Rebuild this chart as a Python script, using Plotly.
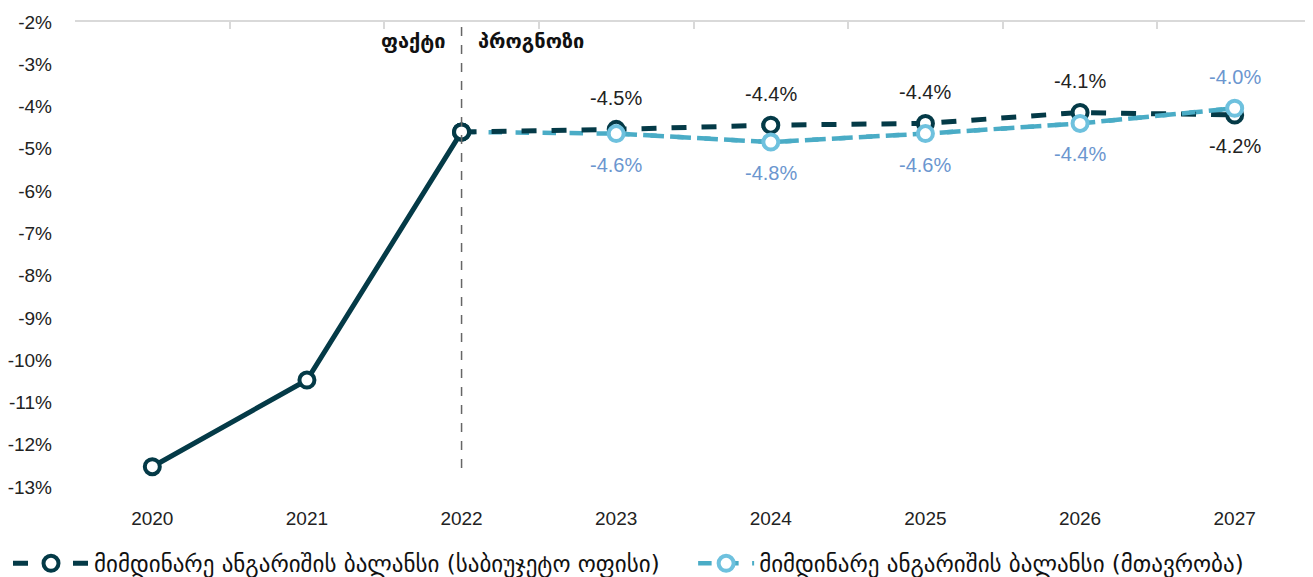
import plotly.graph_objects as go

years = ["2020", "2021", "2022", "2023", "2024", "2025", "2026", "2027"]
office = [-12.52, -10.47, -4.6, -4.54, -4.44, -4.40, -4.14, -4.20]   # fact 2020-2022, forecast after
govt = [None, None, -4.6, -4.64, -4.84, -4.64, -4.40, -4.04]
office_label_pos = [None, None, None, 1, 1, 1, 1, -1]
govt_label_pos = [None, None, None, -1, -1, -1, -1, 1]
name_office = "მიმდინარე ანგარიშის ბალანსი (საბიუჯეტო ოფისი)"
name_govt = "მიმდინარე ანგარიშის ბალანსი (მთავრობა)"
fact_label = "ფაქტი"
forecast_label = "პროგნოზი"
yticks = list(range(-13, -1))

DARK = "#043A47"
LIGHT = "#4AACC6"
LIGHT_MK = "#6EC1DE"
NUM_FONT = "Liberation Sans"
GEO_FONT = "DejaVu Sans"

xi = list(range(len(years)))
fig = go.Figure()

g_idx = [i for i in xi if govt[i] is not None]
fig.add_trace(go.Scatter(
    x=[xi[i] for i in g_idx], y=[govt[i] for i in g_idx], mode="lines",
    line=dict(color=LIGHT, width=4.5, dash="dash"),
    showlegend=False, hoverinfo="skip"))

fig.add_trace(go.Scatter(
    x=xi[:3], y=office[:3], mode="lines+markers",
    line=dict(color=DARK, width=5),
    marker=dict(symbol="circle", size=15, color="white", line=dict(color=DARK, width=4)),
    showlegend=False, hoverinfo="skip"))

fig.add_trace(go.Scatter(
    x=xi[2:], y=office[2:], mode="lines+markers",
    line=dict(color=DARK, width=5, dash="dash"),
    marker=dict(symbol="circle", size=15, color="white", line=dict(color=DARK, width=4)),
    name=name_office, showlegend=True, legend="legend", hoverinfo="skip"))

fig.add_trace(go.Scatter(
    x=[xi[i] for i in g_idx[1:]], y=[govt[i] for i in g_idx[1:]], mode="lines+markers",
    line=dict(color=LIGHT, width=4.5, dash="dash"),
    marker=dict(symbol="circle", size=15, color="white", line=dict(color=LIGHT_MK, width=4)),
    name=name_govt, showlegend=True, legend="legend2", hoverinfo="skip"))

fig.add_trace(go.Scatter(
    x=[xi[2]], y=[office[2]], mode="markers",
    marker=dict(symbol="circle", size=15, color="white", line=dict(color=DARK, width=4)),
    showlegend=False, hoverinfo="skip"))

fig.add_trace(go.Scatter(x=[xi[0], xi[-1]], y=[-2, -2], xaxis="x2", mode="markers",
                         marker=dict(opacity=0), showlegend=False, hoverinfo="skip"))

def fmt(v):
    return f"{v:.1f}%"

for i in xi:
    if office_label_pos[i] is not None:
        fig.add_annotation(x=xi[i], y=office[i], text=fmt(office[i]), showarrow=False,
                           yshift=31 * office_label_pos[i],
                           font=dict(family=NUM_FONT, size=20, color="#222222"))
    if govt_label_pos[i] is not None:
        fig.add_annotation(x=xi[i], y=govt[i], text=fmt(govt[i]), showarrow=False,
                           yshift=31 * govt_label_pos[i],
                           font=dict(family=NUM_FONT, size=20, color="#6B96CF"))

fig.add_shape(type="line", x0=2, x1=2, y0=-12.55, y1=-2, xref="x", yref="y",
              line=dict(color="#666666", width=1.5, dash="dash"))
fig.add_annotation(x=2, y=-2.45, text=f"<b>{fact_label}</b>", showarrow=False,
                   xanchor="right", xshift=-14,
                   font=dict(family=GEO_FONT, size=20, color="#111111"))
fig.add_annotation(x=2, y=-2.45, text=f"<b>{forecast_label}</b>", showarrow=False,
                   xanchor="left", xshift=14,
                   font=dict(family=GEO_FONT, size=20, color="#111111"))

legend_common = dict(orientation="h", xanchor="left", y=0.024, yanchor="middle",
                     xref="container", yref="container",
                     font=dict(family=GEO_FONT, size=23, color="#111111"))

fig.update_layout(
    width=1305, height=569,
    margin=dict(l=67, r=1, t=14, b=90, autoexpand=False),
    plot_bgcolor="white", paper_bgcolor="white",
    xaxis=dict(range=[-0.5, 7.5], tickvals=xi, ticktext=years, showgrid=False, automargin=False,
               zeroline=False, showline=False, ticks="", ticklabelstandoff=18,
               tickfont=dict(family=NUM_FONT, size=19, color="#222222")),
    xaxis2=dict(range=[-0.5, 7.5], overlaying="x", side="top", anchor="y", automargin=False,
                tickvals=[v - 0.5 for v in xi] + [xi[-1] + 0.5], showticklabels=False,
                ticks="inside", ticklen=7, tickcolor="#D9D9D9", tickwidth=1.5,
                showline=True, linecolor="#D9D9D9", linewidth=1.5, showgrid=False, zeroline=False),
    yaxis=dict(range=[-13, -2], tickvals=yticks, ticktext=[f"{v}%" for v in yticks],
               showgrid=False, zeroline=False, showline=False, ticklabelstandoff=22, automargin=False,
               tickfont=dict(family=NUM_FONT, size=19, color="#222222")),
    legend=dict(x=0.0, itemwidth=76, **legend_common),
    legend2=dict(x=0.525, itemwidth=56, **legend_common),
)

fig.write_html("out.html")
